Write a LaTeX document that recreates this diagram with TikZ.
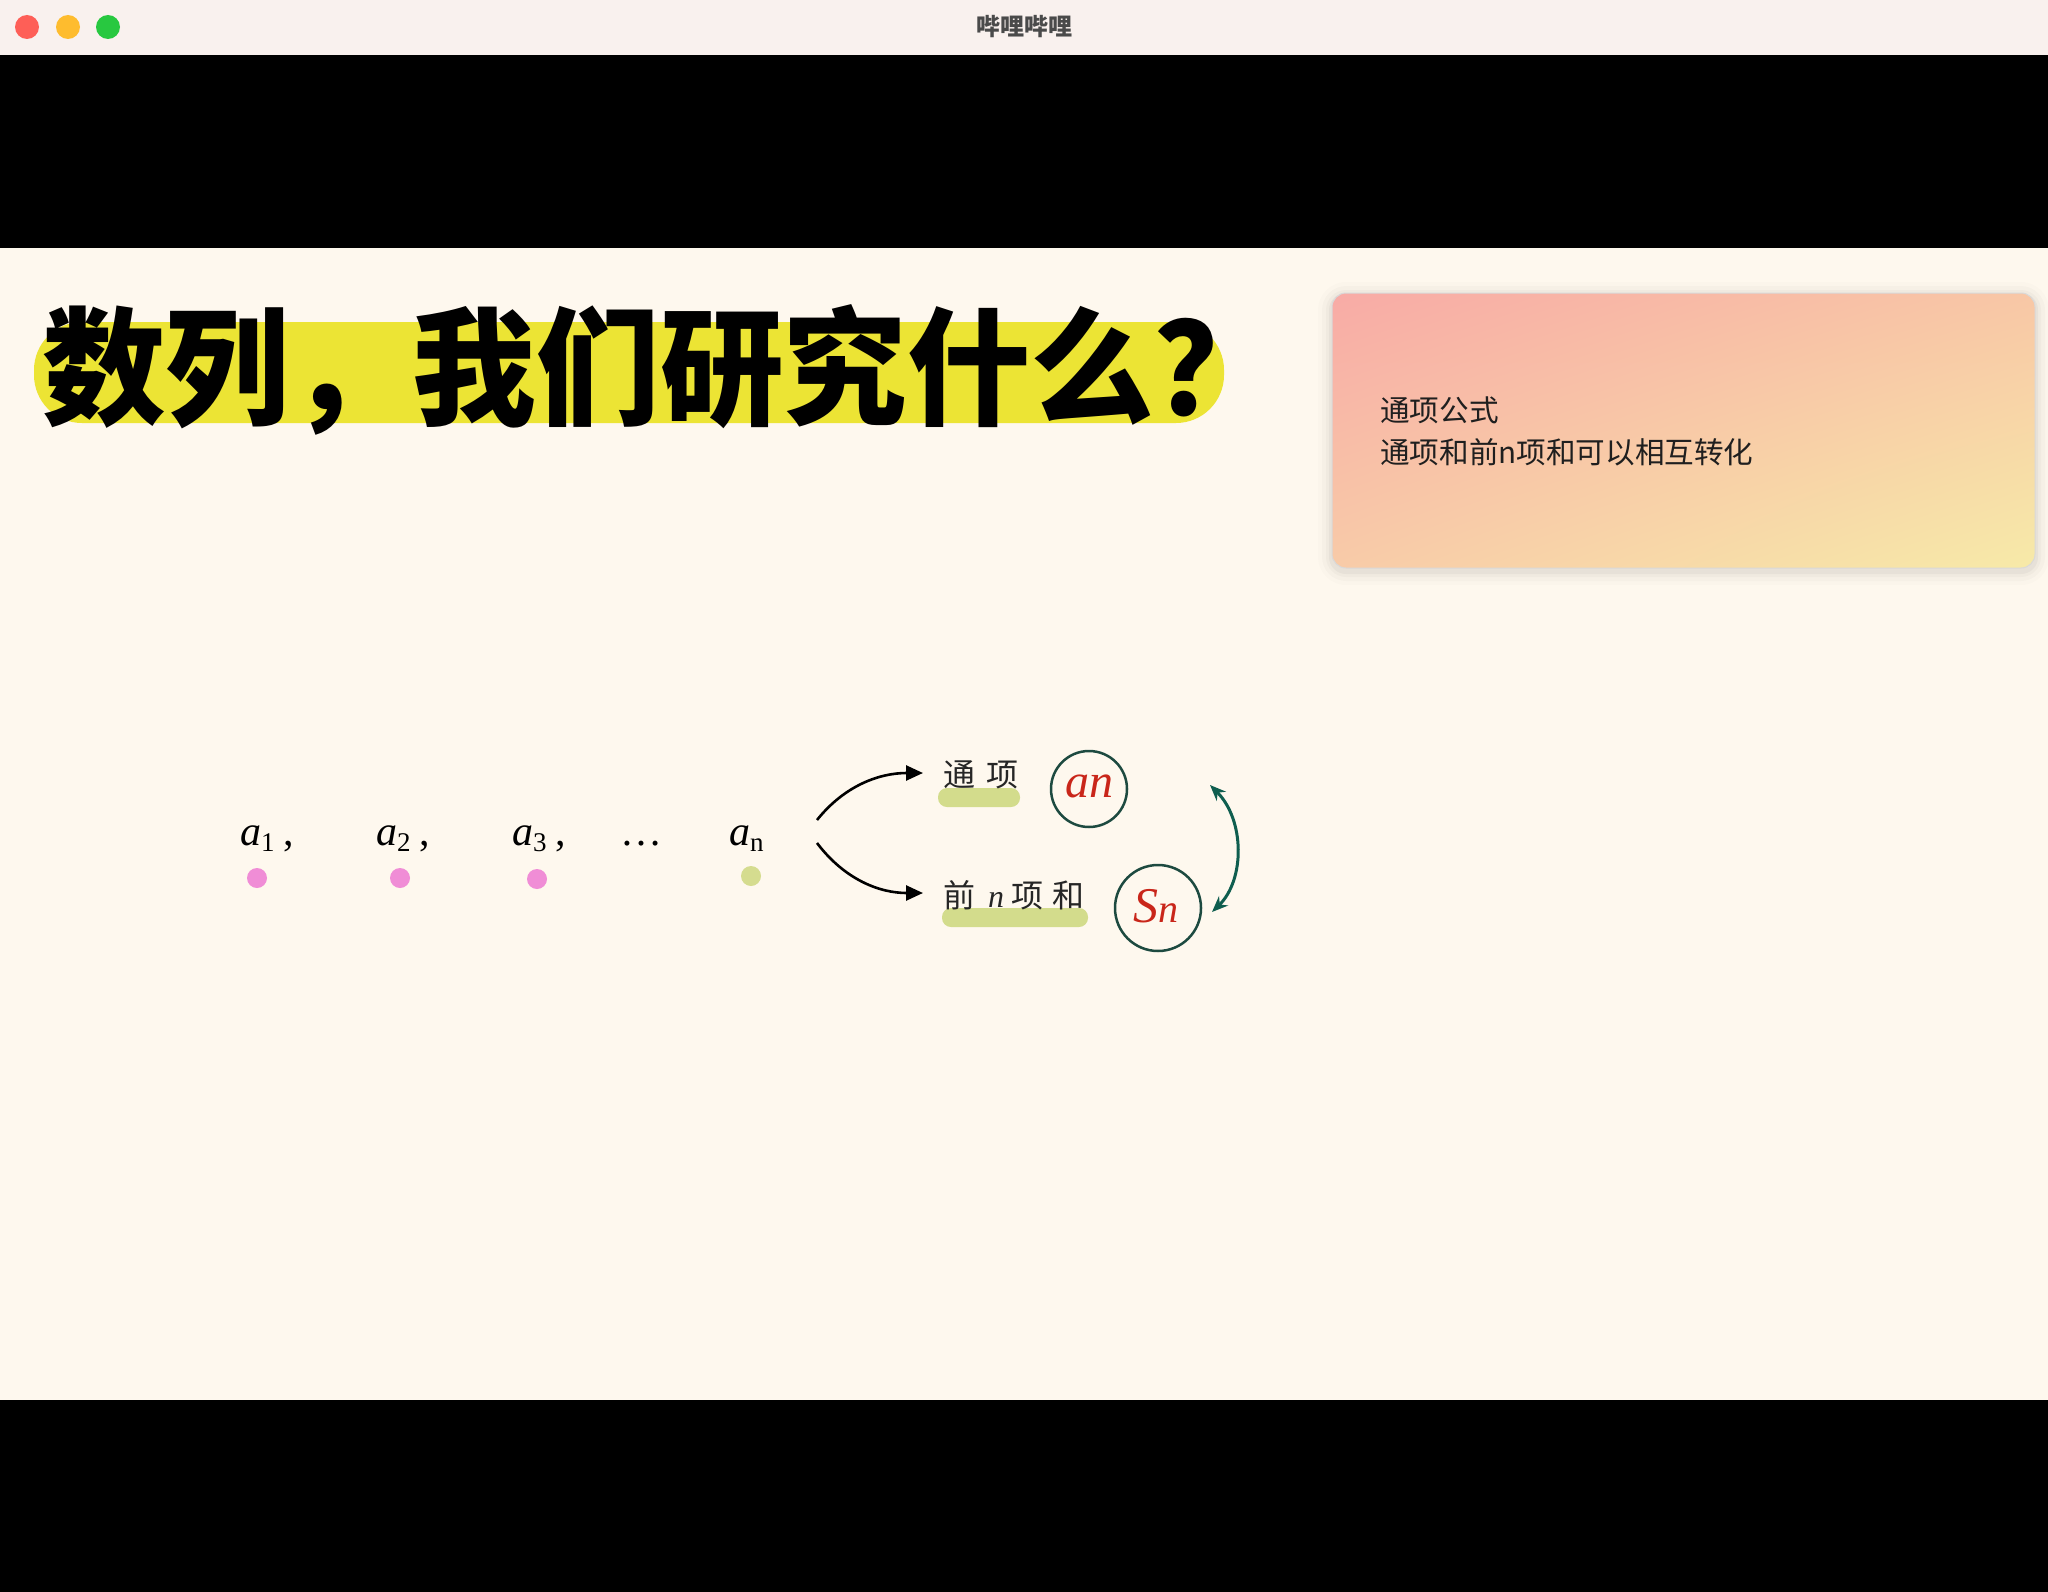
\documentclass[tikz,border=0pt]{standalone}
\usepackage{fontspec}
\setmainfont{Liberation Serif}
\newfontfamily\cjk{Noto Sans CJK SC}
\usetikzlibrary{arrows.meta,shadings}
\definecolor{cream}{HTML}{FEF8EE}
\definecolor{barbg}{HTML}{F9F1EE}
\definecolor{bartxt}{HTML}{4A4A4A}
\definecolor{tlred}{HTML}{FE5F57}
\definecolor{tlyel}{HTML}{FEBC2E}
\definecolor{tlgrn}{HTML}{28C840}
\definecolor{hlyel}{HTML}{ECE434}
\definecolor{dotpink}{HTML}{F08DD6}
\definecolor{dotgreen}{HTML}{D5DC8F}
\definecolor{hlgreen}{HTML}{D3DC8C}
\definecolor{ring}{HTML}{1D4A40}
\definecolor{teal}{HTML}{0F5E4F}
\definecolor{redink}{HTML}{C9261A}
\definecolor{cUL}{HTML}{F8ABA6}
\definecolor{cUR}{HTML}{F8C7A6}
\definecolor{cLL}{HTML}{F8CBA8}
\definecolor{cLR}{HTML}{F7EAA8}
\newcommand\subs[1]{\raisebox{-6pt}{\fontsize{27}{30}\selectfont #1}}
\newcommand\itn{{\rmfamily\itshape n}}
\tikzset{
  light/.style={circle, inner sep=0pt, minimum size=24pt},
  seq/.style={inner sep=0pt, font=\fontsize{42}{46}\selectfont},
  seqdot/.style={circle, inner sep=0pt, minimum size=20pt},
  hand/.style={inner sep=0pt, font=\cjk\fontsize{32}{36}\selectfont, text=black!85},
  ringnode/.style={circle, draw=ring, line width=2.5pt, inner sep=0pt},
  arr/.style={line width=2.6pt, -{Triangle[length=17pt,width=15pt]}},
  tealarr/.style={teal, line width=3pt, {Stealth[length=16pt,width=13pt]}-{Stealth[length=16pt,width=13pt]}},
  cardtext/.style={inner sep=0pt, anchor=west, font=\cjk\fontsize{29.6}{34}\selectfont, text=black!88}
}
\begin{document}
\begin{tikzpicture}[x=1pt,y=-1pt]
\useasboundingbox (0,0) rectangle (2048,1592);
\fill[black] (0,0) rectangle (2048,1592);
\fill[barbg] (0,0) rectangle (2048,55);
\fill[cream] (0,248) rectangle (2048,1400);

% window title bar
\node[light, fill=tlred] (lr) at (27,27) {};
\node[light, fill=tlyel] (ly) at (68,27) {};
\node[light, fill=tlgrn] (lg) at (108,27) {};
\node[font=\cjk\bfseries\fontsize{24}{26}\selectfont, text=bartxt] (wtitle) at (1024,27) {哔哩哔哩};

% heading
\fill[hlyel, rounded corners=48pt] (34,322) rectangle (1224,423);
\node[inner sep=0pt, font=\cjk\bfseries\fontsize{128}{130}\selectfont, xscale=0.965] (heading) at (660,370) {数列，我们研究什么？};

% card
\foreach \i/\o in {14/0.012,10/0.018,6/0.025,3/0.035}{
  \fill[black, opacity=\o, rounded corners={14+\i}] ({1332-\i},{293-\i+3}) rectangle ({2035+\i},{568+\i+3});
}
\shade[rounded corners=14pt, upper left=cUL, upper right=cUR, lower left=cLL, lower right=cLR] (1332,293) rectangle (2035,568);
\draw[black!15, line width=1pt, rounded corners=14pt] (1332,293) rectangle (2035,568);
\node[cardtext] (c1) at (1380,410) {通项公式};
\node[cardtext] (c2) at (1380,452) {通项和前n项和可以相互转化};

% sequence
\node[seq, anchor=base west] (a1) at (240,845) {\textit{a}\subs{1}\hspace{9pt},};
\node[seq, anchor=base west] (a2) at (376,845) {\textit{a}\subs{2}\hspace{9pt},};
\node[seq, anchor=base west] (a3) at (512,845) {\textit{a}\subs{3}\hspace{9pt},};
\node[seq, anchor=base west] (dots) at (620,845) {…};
\node[seq, anchor=base west] (an) at (729,845) {\textit{a}\subs{n}};
\node[seqdot, fill=dotpink] (d1) at (257,878) {};
\node[seqdot, fill=dotpink] (d2) at (400,878) {};
\node[seqdot, fill=dotpink] (d3) at (537,879) {};
\node[seqdot, fill=dotgreen] (dn) at (751,876) {};

% highlights
\fill[hlgreen, rounded corners=9pt] (938,788) rectangle (1020,807);
\fill[hlgreen, rounded corners=9pt] (942,908) rectangle (1088,927);

% labels
\node[hand, anchor=west] (tx) at (943,775) {通\hspace{11pt}项};
\node[hand, anchor=west] (qn) at (943,895) {前\hspace{13pt}\itn\hspace{7pt}项\hspace{9pt}和};

% circles
\node[ringnode, minimum size=76pt] (can) at (1089,789) {};
\node[text=redink, font=\itshape\fontsize{48}{50}\selectfont, inner sep=0pt] (tan) at (1089,786) {an};
\node[ringnode, minimum size=86pt] (csn) at (1158,908) {};
\node[text=redink, inner sep=0pt] (tsn) at (1156,906) {\fontsize{50}{50}\selectfont\itshape S\fontsize{40}{40}\selectfont n};

% connectors
\coordinate (f1) at (817,820);
\coordinate (f2) at (817,843);
\coordinate (t1) at (923,773);
\coordinate (t2) at (923,893);
\draw[arr] (f1) .. controls (845,785) and (880,773) .. (t1);
\draw[arr] (f2) .. controls (845,880) and (880,893) .. (t2);

\coordinate (r1) at (1210,785);
\coordinate (r2) at (1212,912);
\draw[tealarr] (r1) .. controls (1245,820) and (1245,880) .. (r2);
\end{tikzpicture}
\end{document}
